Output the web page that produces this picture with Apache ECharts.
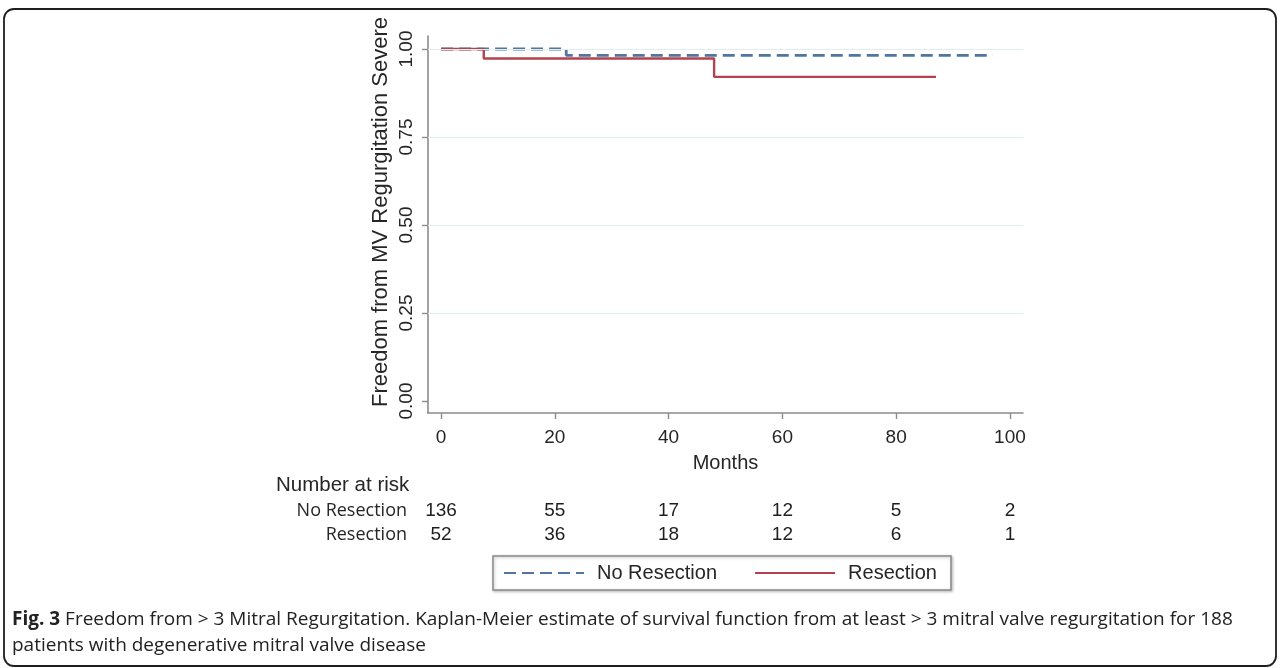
<!DOCTYPE html>
<html>
<head>
<meta charset="utf-8">
<script src="https://cdn.jsdelivr.net/npm/echarts@6/dist/echarts.min.js"></script>
<style>
  html, body { margin: 0; padding: 0; background: #fff; }
  #chart { width: 1281px; height: 668px; }
</style>
</head>
<body>
<div id="chart"></div>
<script>
// ---- data ----
const noResTimes = [0, 22, 97];
const noResSurv  = [1, 0.982, 0.982];
const resTimes   = [0, 7.5, 48, 87];
const resSurv    = [1, 0.973, 0.921, 0.921];

const xTicks = [0, 20, 40, 60, 80, 100];
const yTicks = [0, 0.25, 0.5, 0.75, 1];
const yGridValues = [0.25, 0.5, 0.75, 1];

const riskTimes   = [0, 20, 40, 60, 80, 100];
const riskGroups  = ['No Resection', 'Resection'];
const riskNoRes   = [136, 55, 17, 12, 5, 2];
const riskRes     = [52, 36, 18, 12, 6, 1];

const seriesNames = ['No Resection', 'Resection'];
const yTitle = 'Freedom from MV Regurgitation Severe';
const xTitle = 'Months';
const riskTitle = 'Number at risk';
const captionBold = 'Fig. 3';
const captionText = ' Freedom from > 3 Mitral Regurgitation. Kaplan-Meier estimate of survival function from at least > 3 mitral valve regurgitation for 188\npatients with degenerative mitral valve disease';

// ---- build ----
const pair = (xs, ys) => xs.map((x, i) => [x, ys[i]]);
const riskData = [];
riskTimes.forEach((t, i) => {
  riskData.push([t, riskGroups[0], riskNoRes[i]]);
  riskData.push([t, riskGroups[1], riskRes[i]]);
});

const FONT = '"Liberation Sans", Arial, sans-serif';
const TXT = '#262626';
const AX = '#8c8c8c';
const BLUE = '#4f76a0';
const RED = '#b4414d';

const chart = echarts.init(document.getElementById('chart'), null, { renderer: 'canvas' });

const option = {
  backgroundColor: '#ffffff',
  animation: false,
  textStyle: { fontFamily: FONT },
  grid: [
    { left: 428, top: 36, width: 595, height: 377 },
    { left: 428, top: 499, width: 595, height: 48 }
  ],
  xAxis: [
    {
      type: 'value', gridIndex: 0, min: -2.3, max: 102.3,
      axisLine: { show: true, onZero: false, lineStyle: { color: AX, width: 1.6 } },
      axisTick: { show: true, customValues: xTicks, length: 6, lineStyle: { color: AX, width: 1.4 } },
      axisLabel: { customValues: xTicks, margin: 15, fontSize: 19, color: TXT, fontFamily: FONT },
      splitLine: { show: false },
      name: xTitle, nameLocation: 'middle', nameGap: 40,
      nameTextStyle: { fontSize: 20, color: TXT, fontFamily: FONT }
    },
    {
      type: 'value', gridIndex: 1, min: -2.3, max: 102.3, show: false
    }
  ],
  yAxis: [
    {
      type: 'value', gridIndex: 0, min: -0.034, max: 1.037,
      axisLine: { show: true, onZero: false, lineStyle: { color: AX, width: 1.6 } },
      axisTick: { show: true, customValues: yTicks, length: 6, lineStyle: { color: AX, width: 1.4 } },
      axisLabel: {
        customValues: yTicks, rotate: 90, margin: 12, fontSize: 19, color: TXT, fontFamily: FONT,
        formatter: v => v.toFixed(2)
      },
      splitLine: { show: false }
    },
    {
      type: 'category', gridIndex: 1, data: riskGroups, inverse: true,
      axisLine: { show: false }, axisTick: { show: false }, splitLine: { show: false },
      axisLabel: { margin: 21, fontSize: 18, color: TXT, fontFamily: '"Open Sans", sans-serif' }
    }
  ],
  legend: {
    left: 493, top: 556,
    orient: 'horizontal',
    data: seriesNames,
    itemWidth: 80, itemHeight: 14, itemGap: 37,
    padding: [7, 14, 7, 10],
    borderColor: '#8a8a8a', borderWidth: 1.5, borderRadius: 0,
    shadowColor: 'rgba(0,0,0,0.25)', shadowBlur: 3, shadowOffsetX: 1, shadowOffsetY: 1,
    backgroundColor: '#fff',
    itemStyle: { opacity: 0, borderWidth: 0 },
    textStyle: { fontSize: 20, color: TXT, fontFamily: FONT, padding: [0, 0, 0, 8] },
    selectedMode: false
  },
  series: [
    {
      name: 'grid', type: 'line', xAxisIndex: 0, yAxisIndex: 0, data: [],
      silent: true,
      markLine: {
        silent: true, symbol: 'none', label: { show: false },
        lineStyle: { color: '#e2edf0', width: 1.2, type: 'solid' },
        data: yGridValues.map(v => ({ yAxis: v }))
      }
    },
    {
      name: seriesNames[0], type: 'line', step: 'end', xAxisIndex: 0, yAxisIndex: 0,
      data: pair(noResTimes, noResSurv),
      symbol: 'none', showSymbol: false,
      itemStyle: { color: BLUE },
      lineStyle: { color: BLUE, width: 2.8, type: [12, 6] },
      z: 2
    },
    {
      name: seriesNames[1], type: 'line', step: 'end', xAxisIndex: 0, yAxisIndex: 0,
      data: pair(resTimes, resSurv),
      symbol: 'none', showSymbol: false,
      itemStyle: { color: RED },
      lineStyle: { color: RED, width: 2.4, type: 'solid' },
      z: 3
    },
    {
      name: 'risk', type: 'scatter', xAxisIndex: 1, yAxisIndex: 1,
      data: riskData, symbolSize: 1, itemStyle: { color: '#ffffff', opacity: 1 },
      silent: true,
      label: {
        show: true, position: 'inside', formatter: p => String(p.value[2]),
        fontSize: 19, color: '#1e1e1e', fontFamily: FONT, textBorderWidth: 0, opacity: 1
      }
    }
  ],
  graphic: [
    {
      type: 'rect', silent: true, z: -10,
      shape: { x: 4, y: 9, width: 1272, height: 657, r: 10 },
      style: { fill: 'none', stroke: '#1e1e1e', lineWidth: 1.8 }
    },
    {
      type: 'text', silent: true,
      x: 381, y: 212, rotation: Math.PI / 2,
      style: {
        text: yTitle, fontSize: 22, fontFamily: FONT, fill: TXT,
        align: 'center', verticalAlign: 'middle'
      }
    },
    {
      type: 'text', silent: true,
      x: 276, y: 485,
      style: { text: riskTitle, fontSize: 20.5, fontFamily: FONT, fill: TXT, align: 'left', verticalAlign: 'middle' }
    },
    {
      type: 'text', silent: true,
      x: 12, y: 607,
      style: {
        text: '{b|' + captionBold + '}' + captionText,
        fontSize: 19, fontFamily: '"Open Sans", sans-serif', fill: '#222', lineHeight: 26,
        rich: { b: { fontWeight: 'bold', fontSize: 19, fontFamily: '"Open Sans", sans-serif', fill: '#222', lineHeight: 26 } }
      }
    }
  ]
};

chart.setOption(option);
</script>
</body>
</html>
